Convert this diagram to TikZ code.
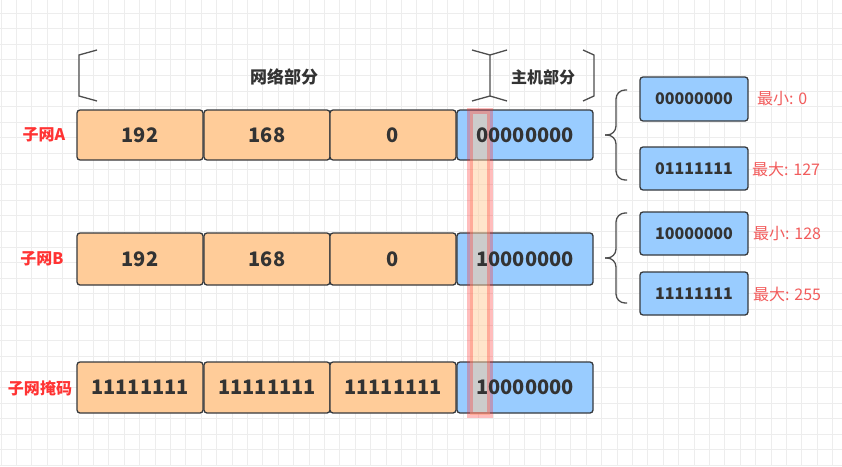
\documentclass[tikz,border=0pt]{standalone}
\usepackage{fontspec}
\setmainfont{Noto Sans CJK SC}
\definecolor{orangef}{HTML}{FFCC99}
\definecolor{bluef}{HTML}{99CCFF}
\definecolor{boxline}{HTML}{36393D}
\definecolor{txt}{HTML}{333333}
\definecolor{lblred}{HTML}{FF3333}
\definecolor{sidered}{HTML}{F25C5C}
\definecolor{gridc}{HTML}{EDEDED}
\definecolor{brk}{HTML}{4D4D4D}
\begin{document}
\begin{tikzpicture}[x=1pt,y=-1pt,
  cell/.style={draw=boxline,line width=1.3pt,rounded corners=3pt,inner sep=0pt},
  ocell/.style={cell,fill=orangef},
  bcell/.style={cell,fill=bluef},
  bigtxt/.style={font=\fontsize{20}{24}\selectfont\bfseries,text=txt},
  smalltxt/.style={font=\fontsize{16}{19}\selectfont\bfseries,text=txt},
  rowlbl/.style={font=\fontsize{16}{19}\selectfont\bfseries,text=lblred},
  sidelbl/.style={font=\fontsize{16}{19}\selectfont,text=sidered,anchor=west,inner sep=0pt},
  partlbl/.style={font=\fontsize{16}{19}\selectfont\bfseries,text=txt},
  bracket/.style={draw=brk,line width=1.3pt},
  brace/.style={draw=brk,line width=1.3pt,rounded corners=9pt}]
\fill[white] (0,0) rectangle (842,466);
\useasboundingbox (0,0) rectangle (842,466);
% grid
\foreach \i in {0,...,55} {\draw[gridc,line width=0.8pt] (1+15.4*\i,0) -- (1+15.4*\i,466);}
\foreach \j in {0,...,30} {\draw[gridc,line width=0.8pt] (0,-2.7+15.6*\j) -- (842,-2.7+15.6*\j);}
% top brackets
\draw[bracket] (97,50) -- (79,55) -- (79,96) -- (97,101);
\draw[bracket] (472,50) -- (490,55) -- (490,96) -- (472,101);
\draw[bracket] (507,50) -- (490,55);
\draw[bracket] (507,101) -- (490,96);
\draw[bracket] (583,50) -- (594,55) -- (594,96) -- (583,101);
\node[partlbl,font=\fontsize{17}{20}\selectfont\bfseries] (net) at (284,77) {网络部分};
\node[partlbl] (host) at (543,77) {主机部分};
% row A
\node[rowlbl] (la) at (44,135) {子网A};
\node[ocell,minimum width=126pt,minimum height=50pt] (a1) at (140,135) {};
\node[ocell,minimum width=126pt,minimum height=50pt] (a2) at (267,135) {};
\node[ocell,minimum width=126pt,minimum height=50pt] (a3) at (393,135) {};
\node[bcell,minimum width=136pt,minimum height=50pt] (a4) at (525,135) {};
% row B
\node[rowlbl] (lb) at (42,259) {子网B};
\node[ocell,minimum width=126pt,minimum height=52pt] (b1) at (140,259) {};
\node[ocell,minimum width=126pt,minimum height=52pt] (b2) at (267,259) {};
\node[ocell,minimum width=126pt,minimum height=52pt] (b3) at (393,259) {};
\node[bcell,minimum width=136pt,minimum height=52pt] (b4) at (525,259) {};
% mask row
\node[rowlbl] (lm) at (40,388) {子网掩码};
\node[ocell,minimum width=126pt,minimum height=51pt] (m1) at (140,387.5) {};
\node[ocell,minimum width=126pt,minimum height=51pt] (m2) at (267,387.5) {};
\node[ocell,minimum width=126pt,minimum height=51pt] (m3) at (393,387.5) {};
\node[bcell,minimum width=136pt,minimum height=51pt] (m4) at (525,387.5) {};
% highlight stripe
\draw[draw=red!85!white,draw opacity=0.3,line width=6pt,fill=orangef,fill opacity=0.5] (470,111) rectangle (490,415);
% texts
\node[bigtxt] at (a1) {192};
\node[bigtxt] at (a2) {168};
\node[bigtxt] at (a3) {0};
\node[bigtxt] at (a4) {00000000};
\node[bigtxt] at (b1) {192};
\node[bigtxt] at (b2) {168};
\node[bigtxt] at (b3) {0};
\node[bigtxt] at (b4) {10000000};
\node[bigtxt] at (m1) {11111111};
\node[bigtxt] at (m2) {11111111};
\node[bigtxt] at (m3) {11111111};
\node[bigtxt] at (m4) {10000000};
% braces
\draw[brace] (627,90) -- (616,90) -- (616,135) -- (605,135);
\draw[brace] (605,135) -- (616,135) -- (616,180) -- (627,180);
\draw[brace] (627,213) -- (616,213) -- (616,258) -- (605,258);
\draw[brace] (605,258) -- (616,258) -- (616,303) -- (627,303);
% small boxes
\node[bcell,smalltxt,minimum width=108pt,minimum height=44pt] (sa1) at (694,99) {00000000};
\node[bcell,smalltxt,minimum width=108pt,minimum height=43pt] (sa2) at (694,168.5) {01111111};
\node[bcell,smalltxt,minimum width=108pt,minimum height=43pt] (sb1) at (694,233.5) {10000000};
\node[bcell,smalltxt,minimum width=108pt,minimum height=43pt] (sb2) at (694,293.5) {11111111};
\node[sidelbl] (ta1) at (757,99) {最小: 0};
\node[sidelbl] (ta2) at (752,169) {最大: 127};
\node[sidelbl] (tb1) at (753,234) {最小: 128};
\node[sidelbl] (tb2) at (753,294) {最大: 255};
\end{tikzpicture}
\end{document}
